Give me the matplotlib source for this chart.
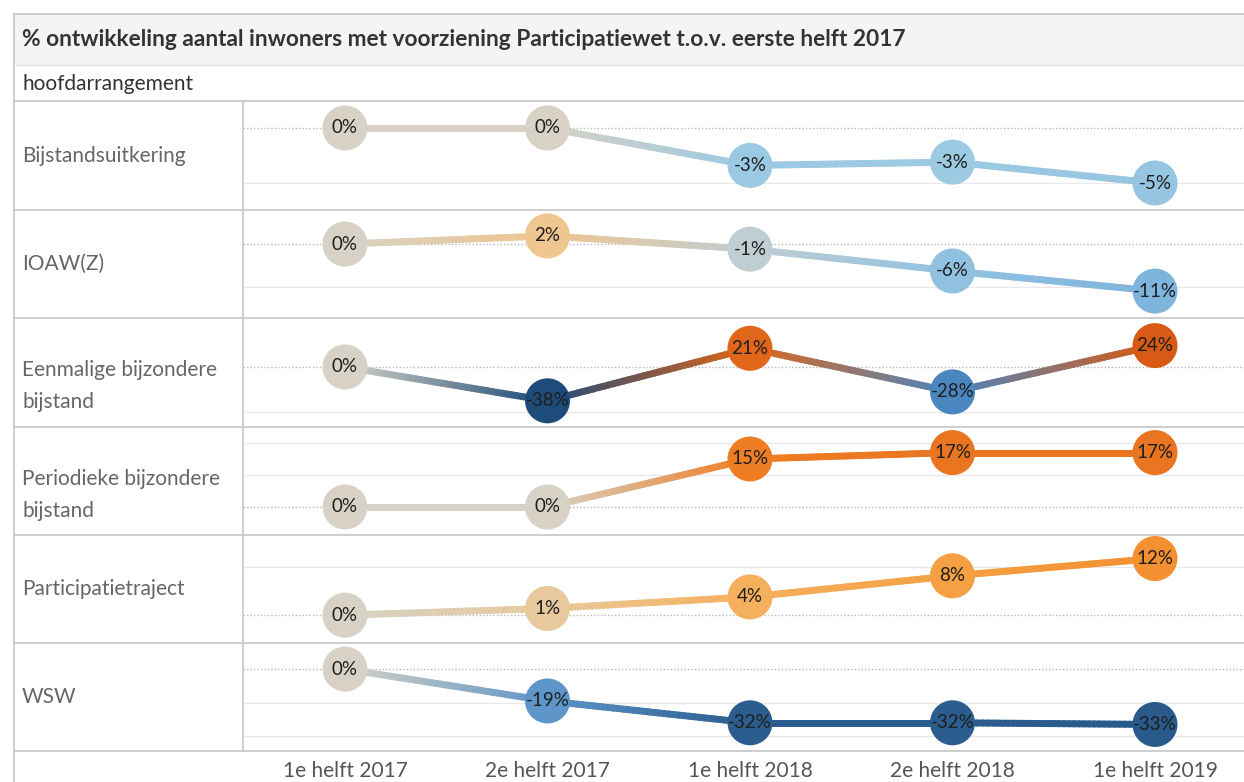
import numpy as np
import matplotlib.pyplot as plt
from matplotlib.collections import LineCollection
from matplotlib.colors import to_rgb
from matplotlib.patches import Rectangle

plt.rcParams['font.family'] = ['Lato', 'DejaVu Sans']

# data
periods = ['1e helft 2017', '2e helft 2017', '1e helft 2018', '2e helft 2018', '1e helft 2019']
rows = ['Bijstandsuitkering', 'IOAW(Z)', 'Eenmalige bijzondere\nbijstand',
        'Periodieke bijzondere\nbijstand', 'Participatietraject', 'WSW']
bijstand = [0, 0, -3.4, -3.1, -5.0]
ioaw = [0, 1.9, -1.2, -6.3, -11.0]
eenmalig = [0, -38, 21, -28, 24]
periodiek = [0, 0, 15, 17, 17]
traject = [0, 1.4, 3.8, 8.2, 11.8]
wsw = [0, -19, -32, -32, -33]
series = [bijstand, ioaw, eenmalig, periodiek, traject, wsw]

# axis settings per row
gridvals = [[-5], [-10], [-50], [10, 20], [10], [-20, -40]]
ylims = [(-7.45, 2.45), (-17.3, 7.96), (-67.4, 55), (-8.75, 25), (-5.8, 16.7), (-48.8, 15.5)]

# diverging colour scale (value -> colour)
anchors = [(-38, '#1d4b7a'), (-31, '#2e6092'), (-28, '#4a86c0'), (-19, '#5e96c9'),
           (-11, '#7eb5dc'), (-3, '#9dcae3'), (-1, '#c4ced1'), (0, '#d7d2c5'),
           (1, '#e2cba8'), (2, '#f0c58c'), (4, '#f6ae58'), (10, '#f59a3a'),
           (15, '#ee7d24'), (24, '#d95a14')]
a_v = np.array([a[0] for a in anchors], float)
a_c = np.array([to_rgb(a[1]) for a in anchors])


def val_color(v):
    return tuple(np.interp(v, a_v, a_c[:, k]) for k in range(3))


W, H = 1244, 782
fig = plt.figure(figsize=(W / 100, H / 100), dpi=100)

# frame / table background in pixel coords
bg = fig.add_axes([0, 0, 1, 1])
bg.set_xlim(0, W)
bg.set_ylim(H, 0)
bg.axis('off')
border = '#c6c6c6'
bg.add_patch(Rectangle((14, 14), W - 14, 51, facecolor='#f4f4f4', edgecolor='none'))
bg.plot([14, W], [14, 14], color=border, lw=1.2)
bg.plot([14, 14], [14, H], color=border, lw=1.2)
bg.plot([14, W], [65, 65], color='#e2e2e2', lw=1)
edges = [101, 210, 318, 427, 535, 643, 751]
for e in edges:
    bg.plot([14, W], [e, e], color=border, lw=1.2)
bg.plot([243, 243], [edges[0], edges[-1]], color=border, lw=1.2)
bg.text(22, 40, '% ontwikkeling aantal inwoners met voorziening Participatiewet t.o.v. eerste helft 2017',
        fontsize=16.4, fontweight='bold', color='#333333', va='center', ha='left')
bg.text(22, 84, 'hoofdarrangement', fontsize=15, color='#333333', va='center', ha='left')

x0_px, step_px = 345, 202.5
for r, name in enumerate(rows):
    top, bot = edges[r], edges[r + 1]
    mid = (top + bot) / 2
    if '\n' in name:
        bg.text(22, mid + 14, name, fontsize=15, color='#666666', va='center',
                ha='left', linespacing=1.75)
    else:
        bg.text(22, mid, name, fontsize=15, color='#666666', va='center', ha='left')

    ax = fig.add_axes([243 / W, 1 - bot / H, (W - 243) / W, (bot - top) / H])
    ax.set_xlim(-(x0_px - 243) / step_px, (W - x0_px) / step_px)
    ax.set_ylim(*ylims[r])
    ax.axis('off')
    ax.axhline(0, color='#b8b8b8', lw=1, ls=(0, (1, 1.5)), zorder=0)
    for g in gridvals[r]:
        ax.axhline(g, color='#e8e8e8', lw=1, zorder=0)

    vals = series[r]
    xs = np.arange(len(periods))
    segs, cols = [], []
    for i in range(len(vals) - 1):
        c1, c2 = np.array(val_color(vals[i])), np.array(val_color(vals[i + 1]))
        t = np.linspace(0, 1, 41)
        px = xs[i] + t
        py = vals[i] + (vals[i + 1] - vals[i]) * t
        for k in range(40):
            segs.append([(px[k], py[k]), (px[k + 1], py[k + 1])])
            cols.append(c1 + (c2 - c1) * (t[k] + t[k + 1]) / 2)
    ax.add_collection(LineCollection(segs, colors=cols, linewidths=5,
                                     capstyle='round', zorder=2))
    ax.scatter(xs, vals, s=1050, c=[val_color(v) for v in vals], edgecolors='none',
               zorder=3, clip_on=False)
    for x, v in zip(xs, vals):
        ax.text(x, v, f'{round(v)}%', ha='center', va='center', fontsize=13.5,
                color='#1e1e1e', zorder=4)

for i, p in enumerate(periods):
    bg.text(x0_px + step_px * i, 771, p, ha='center', va='center', fontsize=15,
            color='#555555')

fig.savefig('out.png', dpi=100)
